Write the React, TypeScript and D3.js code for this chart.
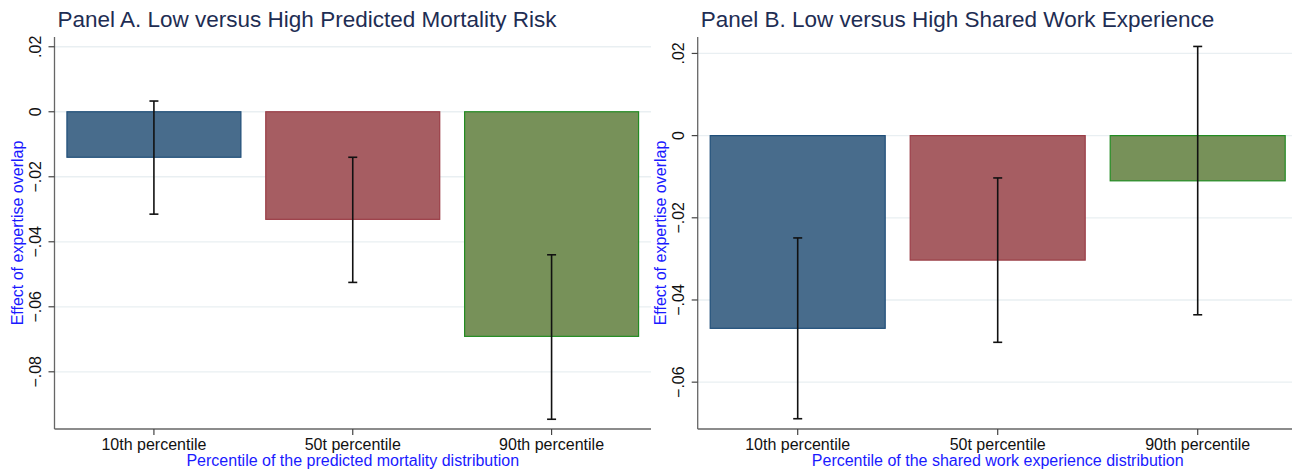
import React from "react";
import * as d3 from "d3";

const categories = ["10th percentile", "50t percentile", "90th percentile"];

const panelATitle = "Panel A. Low versus High Predicted Mortality Risk";
const panelAXTitle = "Percentile of the predicted mortality distribution";
const panelAEstimate = [-0.014, -0.0331, -0.0691];
const panelALower = [-0.0315, -0.0525, -0.0946];
const panelAUpper = [0.0033, -0.014, -0.044];
const panelATicks = [0.02, 0, -0.02, -0.04, -0.06, -0.08];
const panelADomain = [-0.0976, 0.023];

const panelBTitle = "Panel B. Low versus High Shared Work Experience";
const panelBXTitle = "Percentile of the shared work experience distribution";
const panelBEstimate = [-0.0469, -0.0303, -0.011];
const panelBLower = [-0.0689, -0.0503, -0.0436];
const panelBUpper = [-0.0249, -0.0103, 0.0217];
const panelBTicks = [0.02, 0, -0.02, -0.04, -0.06];
const panelBDomain = [-0.0714, 0.024];

const yTitle = "Effect of expertise overlap";

const fills = ["#486c8c", "#a65d62", "#779159"];
const strokes = ["#1f4e79", "#9a3d46", "#228b22"];

const FONT = "'Liberation Sans', Arial, Helvetica, sans-serif";

const fmt = (v: number) =>
  v === 0 ? "0" : d3.format(".2f")(v).replace("0.", ".");

type PanelProps = {
  left: number;
  right: number;
  title: string;
  xTitle: string;
  est: number[];
  lo: number[];
  hi: number[];
  ticks: number[];
  domain: number[];
};

function Panel({ left, right, title, xTitle, est, lo, hi, ticks, domain }: PanelProps) {
  const top = 37;
  const bottom = 429;
  const x = d3
    .scaleBand<string>()
    .domain(categories)
    .range([left, right])
    .paddingInner(0.12)
    .paddingOuter(0.06);
  const y = d3.scaleLinear().domain(domain).range([bottom, top]);
  const bw = x.bandwidth();
  const mid = (left + right) / 2;
  const capW = 9;
  return (
    <g>
      <text
        x={left + 3}
        y={27}
        fontSize={22.5}
        fill="#1e2d53"
        fontFamily={FONT}
      >
        {title}
      </text>
      {ticks.map((t) => (
        <line
          key={"g" + t}
          x1={left}
          x2={right}
          y1={y(t)}
          y2={y(t)}
          stroke="#e9eff2"
          strokeWidth={1.3}
        />
      ))}
      {categories.map((c, i) => {
        const y0 = y(0);
        const y1 = y(est[i]);
        return (
          <rect
            key={c}
            x={(x(c) as number) + 0.5}
            y={Math.min(y0, y1)}
            width={bw - 1}
            height={Math.abs(y1 - y0)}
            fill={fills[i]}
            stroke={strokes[i]}
            strokeWidth={1.2}
          />
        );
      })}
      {categories.map((c, i) => {
        const cx = (x(c) as number) + bw / 2;
        return (
          <g key={"e" + c} stroke="#111" strokeWidth={1.6}>
            <line x1={cx} x2={cx} y1={y(hi[i])} y2={y(lo[i])} />
            <line x1={cx - capW / 2} x2={cx + capW / 2} y1={y(hi[i])} y2={y(hi[i])} />
            <line x1={cx - capW / 2} x2={cx + capW / 2} y1={y(lo[i])} y2={y(lo[i])} />
          </g>
        );
      })}
      <line x1={left} x2={left} y1={top} y2={bottom} stroke="#666" strokeWidth={1.3} />
      <line x1={left} x2={right} y1={bottom} y2={bottom} stroke="#666" strokeWidth={1.3} />
      {ticks.map((t) => (
        <g key={"t" + t}>
          <line x1={left - 6} x2={left} y1={y(t)} y2={y(t)} stroke="#444" strokeWidth={1.2} />
          <text
            transform={`translate(${left - 14},${y(t)}) rotate(-90)`}
            textAnchor="middle"
            fontSize={16}
            fill="#111"
            fontFamily={FONT}
          >
            {fmt(t)}
          </text>
        </g>
      ))}
      {categories.map((c) => {
        const cx = (x(c) as number) + bw / 2;
        return (
          <g key={"x" + c}>
            <line x1={cx} x2={cx} y1={bottom} y2={bottom + 6} stroke="#444" strokeWidth={1.2} />
            <text
              x={cx}
              y={450}
              textAnchor="middle"
              fontSize={16}
              fill="#111"
              fontFamily={FONT}
            >
              {c}
            </text>
          </g>
        );
      })}
      <text
        x={mid}
        y={466}
        textAnchor="middle"
        fontSize={16}
        fill="#1a1aff"
        fontFamily={FONT}
      >
        {xTitle}
      </text>
      <text
        transform={`translate(${left - 31.5},${(top + bottom) / 2}) rotate(-90)`}
        textAnchor="middle"
        fontSize={16}
        fill="#1a1aff"
        fontFamily={FONT}
      >
        {yTitle}
      </text>
    </g>
  );
}

export default function App() {
  return (
    <svg
      width={1292}
      height={474}
      style={{ position: "absolute", left: 0, top: 0, background: "#fff" }}
    >
      <rect x={0} y={0} width={1292} height={474} fill="#fff" />
      <Panel
        left={54.5}
        right={651}
        title={panelATitle}
        xTitle={panelAXTitle}
        est={panelAEstimate}
        lo={panelALower}
        hi={panelAUpper}
        ticks={panelATicks}
        domain={panelADomain}
      />
      <Panel
        left={697.7}
        right={1297.7}
        title={panelBTitle}
        xTitle={panelBXTitle}
        est={panelBEstimate}
        lo={panelBLower}
        hi={panelBUpper}
        ticks={panelBTicks}
        domain={panelBDomain}
      />
    </svg>
  );
}
